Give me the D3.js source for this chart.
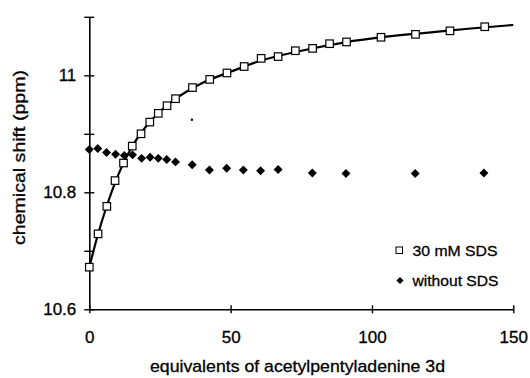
<!DOCTYPE html>
<html>
<head>
<meta charset="utf-8">
<script src="https://cdn.jsdelivr.net/npm/d3@7"></script>
<style>
  body { margin: 0; background: #fff; }
  svg text { font-family: "Liberation Sans", Arial, Helvetica, sans-serif; fill: #000;
      stroke: #000; stroke-width: 0.3px; }
</style>
</head>
<body>
<script>
"use strict";

// 30 mM SDS (open squares)
const sdsX = [0, 3.1, 6.2, 9.1, 12.1, 15.2, 18.3, 21.4, 24.4, 27.5, 30.5, 36.5, 42.6, 48.7,
    54.8, 60.8, 66.8, 72.9, 79.0, 85.0, 91.0, 103.2, 115.4, 127.6, 139.9];
const sdsY = [10.672, 10.729, 10.776, 10.820, 10.850, 10.879, 10.900, 10.920, 10.935, 10.948,
    10.960, 10.979, 10.993, 11.004, 11.015, 11.029, 11.032, 11.042, 11.046, 11.054, 11.057,
    11.065, 11.070, 11.076, 11.083];

// fitted curve through the SDS points
const fitX = [0, 3, 6, 9, 12, 15, 20, 25, 30, 40, 50, 60, 75, 90, 105, 120, 135, 150];
const fitY = [10.672, 10.727, 10.774, 10.815, 10.849, 10.877, 10.912, 10.938, 10.958, 10.987,
    11.006, 11.024, 11.042, 11.056, 11.066, 11.073, 11.080, 11.086];

// without SDS (filled diamonds)
const plainX = [0, 3, 6.1, 9.3, 12.4, 15.3, 18.5, 21.5, 24.4, 27.4, 30.5, 36.4, 42.5, 48.6,
    54.5, 60.6, 66.8, 78.9, 90.8, 115.3, 139.6];
const plainY = [10.873, 10.875, 10.868, 10.865, 10.863, 10.864, 10.858, 10.860, 10.858, 10.856,
    10.852, 10.847, 10.838, 10.841, 10.838, 10.837, 10.839, 10.833, 10.832, 10.832, 10.833];

// stray speck visible on the original scan
const speckX = [36.3];
const speckY = [10.924];

const xTicks = [0, 50, 100, 150];
const yTicks = [10.6, 10.7, 10.8, 10.9, 11.0, 11.1];
const yLabels = {"10.6": "10.6", "10.8": "10.8", "11": "11"};
const legendLabels = ["30 mM SDS", "without SDS"];

const width = 530, height = 378;

let svg = d3.select("body").append("svg")
    .attr("width", width)
    .attr("height", height);

let x = d3.scaleLinear().domain([0, 150]).range([89.3, 513.3]);
let y = d3.scaleLinear().domain([10.6, 11.1]).range([309.3, 16.8]);

// x axis
let xAxis = svg.append("g")
    .attr("transform", "translate(0," + y(10.6) + ")")
    .call(d3.axisBottom(x).tickValues(xTicks).tickSize(4).tickSizeOuter(0)
        .tickFormat(d3.format("d")));
xAxis.select(".domain").attr("stroke", "#000").attr("stroke-width", 1.6);
xAxis.selectAll(".tick line").attr("y1", -4).attr("y2", 4)
    .attr("stroke", "#000").attr("stroke-width", 1.4);
xAxis.selectAll(".tick text").attr("y", 22).attr("dy", "0.71em")
    .style("font-size", "17px");

// y axis
let yAxis = svg.append("g")
    .attr("transform", "translate(" + x(0) + ",0)")
    .call(d3.axisLeft(y).tickValues(yTicks).tickSize(5).tickSizeOuter(0)
        .tickFormat(d => yLabels[String(+d.toFixed(1))] || ""));
yAxis.select(".domain").attr("stroke", "#000").attr("stroke-width", 1.6);
yAxis.selectAll(".tick line").attr("x1", -5).attr("x2", 5)
    .attr("stroke", "#000").attr("stroke-width", 1.4);
yAxis.selectAll(".tick text").attr("x", -13).style("font-size", "17px");

// axis titles
svg.append("text")
    .attr("x", 297.5).attr("y", 371.5)
    .attr("text-anchor", "middle")
    .attr("textLength", 295).attr("lengthAdjust", "spacingAndGlyphs")
    .style("font-size", "17px")
    .text("equivalents of acetylpentyladenine 3d");

svg.append("text")
    .attr("transform", "translate(25,157.5) rotate(-90)")
    .attr("text-anchor", "middle")
    .attr("textLength", 175).attr("lengthAdjust", "spacingAndGlyphs")
    .style("font-size", "17px")
    .text("chemical shift (ppm)");

// fitted line
let fit = fitX.map((d, i) => ({x: d, y: fitY[i]}));
let line = d3.line()
    .x(d => x(d.x))
    .y(d => y(d.y))
    .curve(d3.curveMonotoneX);

svg.append("path")
    .datum(fit)
    .attr("fill", "none")
    .attr("stroke", "#000")
    .attr("stroke-width", 2.2)
    .attr("d", line);

// diamonds
let diamond = d3.symbol().type(d3.symbolSquare).size(40);
let plain = plainX.map((d, i) => ({x: d, y: plainY[i]}));
svg.selectAll("path.plain")
    .data(plain)
    .enter().append("path")
    .attr("class", "plain")
    .attr("d", diamond)
    .attr("transform", d => "translate(" + x(d.x) + "," + y(d.y) + ") rotate(45)")
    .attr("fill", "#000");

// squares
let sq = 7.5;
let sds = sdsX.map((d, i) => ({x: d, y: sdsY[i]}));
svg.selectAll("rect.sds")
    .data(sds)
    .enter().append("rect")
    .attr("class", "sds")
    .attr("x", d => x(d.x) - sq / 2)
    .attr("y", d => y(d.y) - sq / 2)
    .attr("width", sq)
    .attr("height", sq)
    .attr("fill", "#fff")
    .attr("stroke", "#000")
    .attr("stroke-width", 1.2);

// speck
svg.selectAll("circle.speck")
    .data(speckX.map((d, i) => ({x: d, y: speckY[i]})))
    .enter().append("circle")
    .attr("cx", d => x(d.x))
    .attr("cy", d => y(d.y))
    .attr("r", 1.2)
    .attr("fill", "#000");

// legend
let legend = svg.append("g");
legend.append("rect")
    .attr("x", 396).attr("y", 247)
    .attr("width", 6.5).attr("height", 6.5)
    .attr("fill", "#fff").attr("stroke", "#000").attr("stroke-width", 1);
legend.append("path")
    .attr("d", d3.symbol().type(d3.symbolSquare).size(26))
    .attr("transform", "translate(400,280.5) rotate(45)")
    .attr("fill", "#000");

legend.selectAll("text")
    .data(legendLabels)
    .enter().append("text")
    .attr("x", 412.5)
    .attr("y", (d, i) => 255.5 + i * 30)
    .attr("textLength", (d, i) => i === 0 ? 85 : 86)
    .attr("lengthAdjust", "spacingAndGlyphs")
    .style("font-size", "15.5px")
    .text(d => d);
</script>
</body>
</html>
